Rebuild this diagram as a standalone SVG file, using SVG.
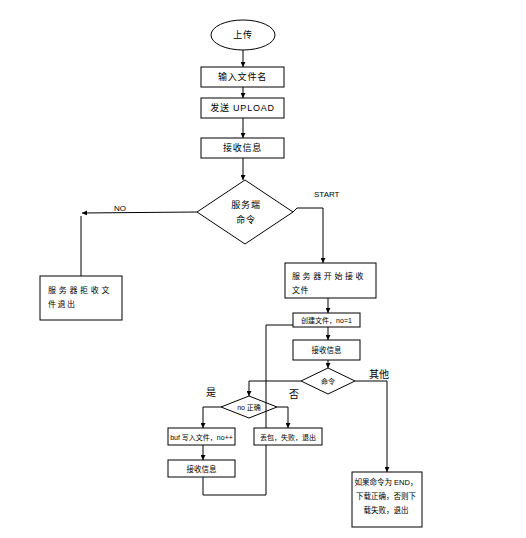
<svg xmlns="http://www.w3.org/2000/svg" width="526" height="538" viewBox="0 0 526 538">
<defs>
<marker id="ah" viewBox="0 0 10 10" refX="10" refY="5" markerWidth="5" markerHeight="5" orient="auto" markerUnits="userSpaceOnUse">
<path d="M0,0 L10,5 L0,10 z" fill="#000"/>
</marker>
<style>
.s{fill:#fff;stroke:#000;stroke-width:1}
.d{fill:none;stroke:#000;stroke-width:1}
.c{fill:none;stroke:#000;stroke-width:1}
.a{marker-end:url(#ah)}
text{font-family:"Liberation Sans","Noto Sans CJK SC",sans-serif;fill:#000}
.t9{font-size:9px;text-anchor:middle;letter-spacing:0.8px}
.t7{font-size:7px;text-anchor:middle}
.t75{font-size:7.5px;text-anchor:middle}
.t8{font-size:8px}
.t10{font-size:10px;text-anchor:middle}
</style>
</defs>
<rect width="526" height="538" fill="#fff"/>

<g id="n-upload">
<ellipse class="s" cx="243" cy="35" rx="32" ry="15"/>
<text class="t9" x="243" y="38">上传</text>
</g>
<g id="n-input">
<rect class="s" x="201" y="67" width="83" height="20"/>
<text class="t9" x="242.5" y="80">输入文件名</text>
</g>
<g id="n-send">
<rect class="s" x="201" y="98" width="83" height="20"/>
<text class="t9" x="242.5" y="111">发送 UPLOAD</text>
</g>
<g id="n-recv1">
<rect class="s" x="201" y="138" width="83" height="20"/>
<text class="t9" x="242.5" y="151">接收信息</text>
</g>
<g id="n-servercmd">
<polygon class="s" points="245,180 293,212 245,244 197,212"/>
<text class="t9" x="246" y="208">服务端</text>
<text class="t9" x="246" y="223">命令</text>
</g>
<g id="n-reject">
<rect class="s" x="40" y="276" width="82" height="44"/>
<text class="t8" x="48" y="293" style="letter-spacing:2.7px">服务器拒收文</text>
<text class="t8" x="48" y="307" style="letter-spacing:1.5px">件退出</text>
</g>
<g id="n-start">
<rect class="s" x="285" y="263" width="91" height="35"/>
<text class="t8" x="292" y="279" style="letter-spacing:2.6px">服务器开始接收</text>
<text class="t8" x="292" y="293" style="letter-spacing:0.6px">文件</text>
</g>
<g id="n-create">
<rect class="s" x="293" y="313" width="67" height="14"/>
<text class="t7" x="326.5" y="323">创建文件，no=1</text>
</g>
<g id="n-recv2">
<rect class="s" x="293" y="340" width="67" height="20"/>
<text class="t75" x="326.5" y="353">接收信息</text>
</g>
<g id="n-cmd">
<polygon class="s" points="328,368 355,381 328,394 301,381"/>
<text class="t7" x="328" y="384">命令</text>
</g>
<g id="n-nook">
<polygon class="s" points="249,396 277,407 249,418 221,407"/>
<text class="t7" x="249" y="410">no 正确</text>
</g>
<g id="n-buf">
<rect class="s" x="168" y="428" width="67" height="17"/>
<text class="t7" x="201.5" y="439.5">buf 写入文件，no++</text>
</g>
<g id="n-recv3">
<rect class="s" x="168" y="460" width="67" height="17"/>
<text class="t75" x="201.5" y="471.5">接收信息</text>
</g>
<g id="n-end">
<rect class="s" x="352" y="472" width="70" height="55"/>
<text class="t75" x="386" y="485">如果命令为 END，</text>
<text class="t75" x="386" y="499">下载正确，否则下</text>
<text class="t75" x="386" y="513">载失败，退出</text>
</g>

<g id="connectors">
<path class="c a" d="M243,50 V67"/>
<path class="c a" d="M243,87 V98"/>
<path class="c a" d="M243,118 V138"/>
<path class="c a" d="M243,158 V180"/>
<path class="c a" d="M197,212 L82,213"/>
<path class="c" d="M81,216 V276"/>
<path class="c a" d="M293,212 L297,208 H323 V263"/>
<path class="c a" d="M328,298 V313"/>
<path class="c a" d="M328,327 V340"/>
<path class="c a" d="M328,360 V368"/>
<path class="c a" d="M301,381 H249 V396"/>
<path class="c a" d="M221,407 H203 V428"/>
<path class="c a" d="M277,407 H288 V428"/>
<path class="c a" d="M203,445 V460"/>
<path class="c" d="M203,477 V495 H266 V325 H293"/>
<path class="c a" d="M355,381 H387 V472"/>
</g>

<g id="n-drop">
<rect class="s" x="254" y="428" width="68" height="17"/>
<text class="t7" x="288" y="439.5">丢包，失败，退出</text>
</g>

<g id="labels">
<text class="t8" x="114" y="211">NO</text>
<text class="t8" x="314" y="197">START</text>
<text class="t10" x="211" y="396">是</text>
<text class="t10" x="294" y="398">否</text>
<text class="t10" x="379" y="378">其他</text>
</g>
</svg>
